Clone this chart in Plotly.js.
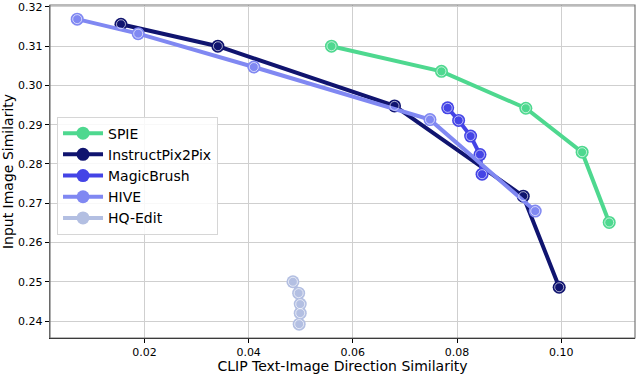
<!DOCTYPE html>
<html>
<head>
<meta charset="utf-8">
<script src="https://cdn.plot.ly/plotly-3.0.1.min.js"></script>
<style>
  html, body { margin: 0; padding: 0; background: #fff; }
  #chart { width: 636px; height: 374px; }
</style>
</head>
<body>
<div id="chart"></div>
<script>
// values
var spieX = [0.0559, 0.0770, 0.0932, 0.1040, 0.1092];
var spieY = [0.3100, 0.3036, 0.2942, 0.2830, 0.2651];

var ip2pX = [0.0155, 0.0341, 0.0680, 0.0927, 0.0996];
var ip2pY = [0.3156, 0.3100, 0.2948, 0.2718, 0.2486];

var mbX = [0.0782, 0.0803, 0.0826, 0.0844, 0.0848];
var mbY = [0.2943, 0.2911, 0.2871, 0.2824, 0.2774];

var hiveX = [0.0071, 0.0188, 0.0410, 0.0748, 0.0950];
var hiveY = [0.3169, 0.3132, 0.3047, 0.2913, 0.2680];

var hqX = [0.0485, 0.0496, 0.0499, 0.0499, 0.0497];
var hqY = [0.2500, 0.2471, 0.2443, 0.2420, 0.2392];

var names = ['SPIE', 'InstructPix2Pix', 'MagicBrush', 'HIVE', 'HQ-Edit'];
var colors = ['#4ed88f', '#10146f', '#4444e6', '#8088f2', '#b3bfe2'];
var xs = [spieX, ip2pX, mbX, hiveX, hqX];
var ys = [spieY, ip2pY, mbY, hiveY, hqY];

var data = [];
for (var i = 0; i < names.length; i++) {
  data.push({
    x: xs[i], y: ys[i], name: names[i],
    type: 'scatter', mode: 'lines+markers',
    line: {color: colors[i], width: 4},
    marker: {color: colors[i], size: 13, line: {width: 0}}
  });
}
// thin white ring inside each marker
for (var j = 0; j < names.length; j++) {
  data.push({
    x: xs[j], y: ys[j], type: 'scatter', mode: 'markers',
    showlegend: false, hoverinfo: 'skip',
    marker: {symbol: 'circle-open', size: 9, color: 'rgba(255,255,255,0.8)', line: {width: 0.8}}
  });
}

var layout = {
  width: 636, height: 374,
  margin: {l: 50, r: 1, t: 5, b: 36},
  paper_bgcolor: '#fff', plot_bgcolor: '#fff',
  font: {family: 'DejaVu Sans', size: 11, color: '#000'},
  showlegend: true,
  legend: {
    x: 0.012, y: 0.665, xanchor: 'left', yanchor: 'top',
    bgcolor: 'rgba(255,255,255,0.85)', bordercolor: '#d6d6d6', borderwidth: 1,
    font: {size: 14}, tracegroupgap: 0, itemwidth: 40
  },
  xaxis: {
    range: [0.00188, 0.11415],
    tickvals: [0.02, 0.04, 0.06, 0.08, 0.10],
    ticktext: ['0.02', '0.04', '0.06', '0.08', '0.10'],
    ticks: 'outside', ticklen: 4, tickcolor: '#000',
    showgrid: true, gridcolor: '#cfcfcf', gridwidth: 1,
    zeroline: false,
    showline: true, linecolor: '#000', linewidth: 1.2,
    title: {text: 'CLIP Text-Image Direction Similarity', font: {size: 14}, standoff: 4}
  },
  yaxis: {
    range: [0.23567, 0.3205],
    tickvals: [0.24, 0.25, 0.26, 0.27, 0.28, 0.29, 0.30, 0.31, 0.32],
    ticktext: ['0.24', '0.25', '0.26', '0.27', '0.28', '0.29', '0.30', '0.31', '0.32'],
    ticks: 'outside', ticklen: 4, tickcolor: '#000',
    showgrid: true, gridcolor: '#cfcfcf', gridwidth: 1,
    zeroline: false,
    showline: true, linecolor: '#555', linewidth: 1.2,
    title: {text: 'Input Image Similarity', font: {size: 14}, standoff: 6}
  },
  shapes: [{
    type: 'rect', xref: 'paper', yref: 'paper', x0: 0, x1: 1, y0: 0, y1: 1,
    line: {color: '#777', width: 1.2}, layer: 'above'
  }]
};

Plotly.newPlot('chart', data, layout, {displayModeBar: false, staticPlot: true});
</script>
</body>
</html>
